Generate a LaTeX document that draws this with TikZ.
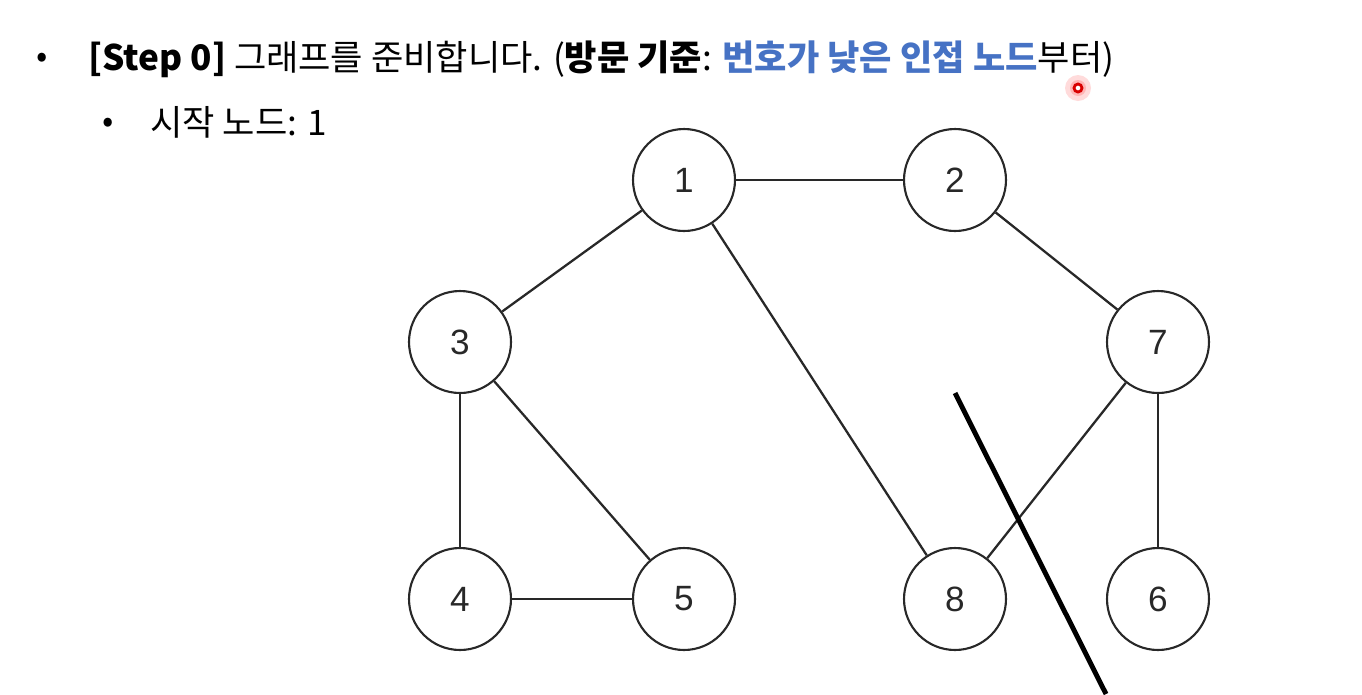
\documentclass[tikz,border=0pt]{standalone}
\usepackage{fontspec}
\setmainfont{Noto Sans CJK KR}
\newfontfamily\numfont{Liberation Sans}
\usetikzlibrary{positioning}
\definecolor{hlblue}{RGB}{70,114,196}
\definecolor{inkgray}{RGB}{40,40,40}

\begin{document}
\begin{tikzpicture}[
    x=0.02cm, y=-0.02cm,
    vertex/.style={draw=inkgray, circle, line width=1.2pt, minimum size=2.04cm, inner sep=0pt, font=\numfont\fontsize{20}{24}\selectfont, text=inkgray},
    edge/.style={draw=inkgray, line width=1.3pt},
    headline/.style={anchor=base west, inner sep=0pt, font=\fontsize{20}{24}\selectfont},
    pen/.style={line width=2.8pt, black}
]
\useasboundingbox (0,0) rectangle (1362,694);

% Header
\node[font=\fontsize{19}{22}\selectfont] (b1) at (42,60) {•};
\node[headline] (h1) at (88,70) {\textbf{[Step 0]} 그래프를 준비합니다. (\textbf{방문 기준}: \textcolor{hlblue}{\textbf{번호가 낮은 인접 노드}}부터)};
\node[font=\fontsize{19}{22}\selectfont] (b2) at (108,125) {•};
\node[headline] (h2) at (150,135) {시작 노드: 1};

% Vertices
\node[vertex] (n1) at (684,180) {1};
\node[vertex] (n2) at (955,180) {2};
\node[vertex] (n3) at (460,342) {3};
\node[vertex] (n7) at (1158,342) {7};
\node[vertex] (n4) at (460,599) {4};
\node[vertex] (n5) at (684,599) {5};
\node[vertex] (n8) at (955,599) {8};
\node[vertex] (n6) at (1158,599) {6};

% Edges
\draw[edge] (n1) -- (n2);
\draw[edge] (n1) -- (n3);
\draw[edge] (n1) -- (n8);
\draw[edge] (n2) -- (n7);
\draw[edge] (n3) -- (n4);
\draw[edge] (n3) -- (n5);
\draw[edge] (n4) -- (n5);
\draw[edge] (n7) -- (n8);
\draw[edge] (n7) -- (n6);

% Pen stroke and pointer
\coordinate (p1) at (955,393);
\coordinate (p2) at (1106,694);
\draw[pen] (p1) -- (p2);
\coordinate (dot) at (1078,88);
\fill[red!20, opacity=0.7] (dot) circle (13);
\fill[red!35, opacity=0.7] (dot) circle (8);
\draw[red!85!black, line width=1.6pt, fill=white] (dot) circle (4);

\end{tikzpicture}
\end{document}
